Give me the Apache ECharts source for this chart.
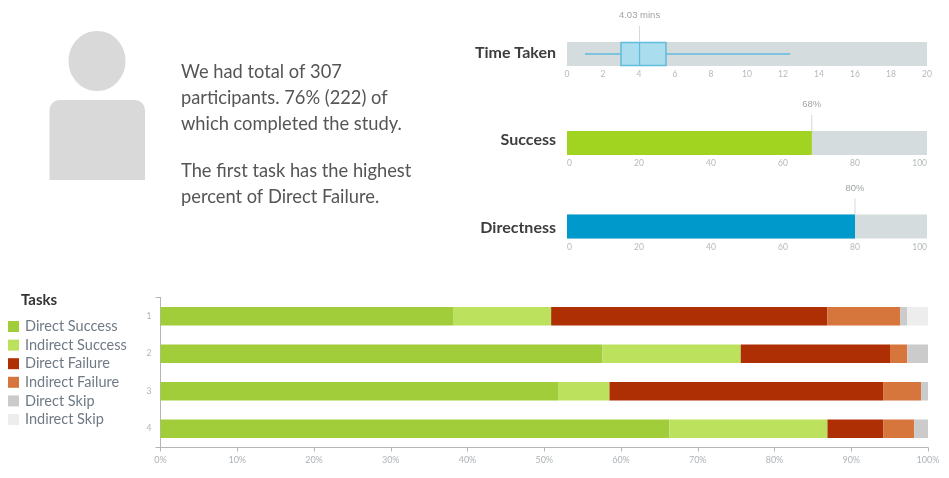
<!DOCTYPE html>
<html><head><meta charset="utf-8">
<style>html,body{margin:0;padding:0;background:#fff}#c{width:949px;height:478px}</style>
<script src="https://cdn.jsdelivr.net/npm/echarts@6/dist/echarts.min.js"></script>
</head><body><div id="c"></div>
<script>
const tasks = ['1','2','3','4'];
const directSuccess = [38.2, 57.6, 51.8, 66.3];
const indirectSuccess = [12.7, 18.0, 6.7, 20.6];
const directFailure = [36.0, 19.45, 35.65, 7.3];
const indirectFailure = [9.5, 2.25, 4.95, 4.0];
const directSkip = [0.9, 2.7, 0.9, 1.8];
const indirectSkip = [2.7, 0, 0, 0];
const stackNames = ['Direct Success','Indirect Success','Direct Failure','Indirect Failure','Direct Skip','Indirect Skip'];
const stackValues = [directSuccess, indirectSuccess, directFailure, indirectFailure, directSkip, indirectSkip];
const stackColors = ['#a2cd3a','#bce15d','#ae2f04','#d6753c','#cbcbcb','#ededed'];
const timeBox = [1, 3, 4.03, 5.5, 12.4];
const timeLabel = '4.03 mins';
const successValue = 68;
const directnessValue = 80;

const font = 'Lato';
const chart = echarts.init(document.getElementById('c'), null, {renderer:'canvas'});

const topGrid = (top) => ({left:567, top, width:360, height:24, show:true, backgroundColor:'#d4dcdd', borderWidth:0});
const topX = (gridIndex, max, interval, edge) => ({
  type:'value', gridIndex, min:0, max, interval,
  axisLine:{show:false}, axisTick:{show:false}, splitLine:{show:false},
  axisLabel:{fontFamily:font, fontSize:8.5, color:'#b4b9bb', margin:4,
    alignMinLabel:edge?'left':'center', alignMaxLabel:edge?'right':'center'}
});
const topY = (gridIndex) => ({type:'category', gridIndex, data:['x'], show:false});

const marker = (idx, value, text, fontFamily) => ({
  type:'custom', xAxisIndex:idx, yAxisIndex:idx, z:5, silent:true,
  data:[[value,0]], encode:{x:0,y:1},
  renderItem(params, api){
    const p = api.coord([api.value(0),0]);
    const h = api.size([0,1])[1];
    const top = p[1]-h/2;
    return {type:'group', children:[
      {type:'line', shape:{x1:p[0],y1:top-16,x2:p[0],y2:top}, style:{stroke:'#d3d8da',lineWidth:1}},
      {type:'text', style:{text, x:p[0], y:top-26.5, align:'center', verticalAlign:'middle',
        font:'9.5px '+fontFamily, fill:'#a0a4a6'}}
    ]};
  }
});

const option = {
  animation:false,
  textStyle:{fontFamily:font},
  grid:[
    topGrid(42), topGrid(131), topGrid(214.5),
    {left:160.5, top:297.5, width:767.5, height:150, show:false}
  ],
  xAxis:[
    topX(0,20,2,false), topX(1,100,20,true), topX(2,100,20,true),
    {type:'value', gridIndex:3, min:0, max:100, interval:10,
     axisLine:{show:true,lineStyle:{color:'#b5b5b5',width:1}},
     axisTick:{show:true,length:4,lineStyle:{color:'#b5b5b5'}},
     splitLine:{show:false},
     axisLabel:{formatter:'{value}%',fontFamily:font,fontSize:9,color:'#adb3b6',margin:8}}
  ],
  yAxis:[
    topY(0), topY(1), topY(2),
    {type:'category', gridIndex:3, data:tasks, inverse:true,
     axisLine:{show:true,lineStyle:{color:'#b5b5b5',width:1}},
     axisTick:{show:true,length:5,interval:(i)=>i===0,lineStyle:{color:'#b5b5b5'}},
     axisLabel:{fontFamily:font,fontSize:8.5,color:'#adb3b6',margin:9}}
  ],
  legend:{
    orient:'vertical', left:3, top:314, itemWidth:11, itemHeight:11, itemGap:3.6,
    icon:'rect', selectedMode:false, data:stackNames,
    itemStyle:{borderWidth:0},
    textStyle:{fontFamily:font,fontSize:14.5,color:'#6f7a85',padding:[0,0,0,1],lineHeight:15}
  },
  graphic:[
    {type:'ellipse', shape:{cx:97,cy:61,rx:28.5,ry:30}, style:{fill:'#d9d9d9'}},
    {type:'rect', shape:{x:49.5,y:100,width:95.5,height:80,r:[10,10,0,0]}, style:{fill:'#d9d9d9'}},
    ...[['We had total of 307',72],['participants. 76% (222) of',98],['which completed the study.',124],
        ['The first task has the highest',171],['percent of Direct Failure.',197]].map(([text,y])=>(
      {type:'text', style:{text,x:181,y,verticalAlign:'middle',font:'18.3px Lato',fill:'#555555'}})),
    ...[['Time Taken',53],['Success',139.5],['Directness',227.5]].map(([text,y])=>(
      {type:'text', style:{text,x:556,y,align:'right',verticalAlign:'middle',font:'bold 16px Lato',fill:'#3d3d3d'}})),
    {type:'text', style:{text:'Tasks',x:21,y:300.5,verticalAlign:'middle',font:'bold 15px Lato',fill:'#333333'}}
  ],
  series:[
    {type:'custom', xAxisIndex:0, yAxisIndex:0, silent:true, z:3,
     data:[[...timeBox,0]], encode:{x:[0,1,2,3,4],y:5},
     renderItem(params, api){
       const pt = (i)=>api.coord([api.value(i),0]);
       const [mn,q1,md,q3,mx] = [0,1,2,3,4].map(pt);
       const h = api.size([0,1])[1];
       const y = mn[1], s='#62bbdc';
       return {type:'group',children:[
         {type:'line',shape:{x1:mn[0],y1:y,x2:q1[0],y2:y},style:{stroke:s,lineWidth:1.5}},
         {type:'line',shape:{x1:q3[0],y1:y,x2:mx[0],y2:y},style:{stroke:s,lineWidth:1.5}},
         {type:'rect',shape:{x:q1[0],y:y-h/2+0.5,width:q3[0]-q1[0],height:h-1},style:{fill:'#aadeee',stroke:s,lineWidth:1.5}},
         {type:'line',shape:{x1:md[0],y1:y-h/2,x2:md[0],y2:y+h/2},style:{stroke:s,lineWidth:1.2}}
       ]};
     }},
    marker(0,timeBox[2],timeLabel,'"Liberation Sans"'),
    {type:'bar', xAxisIndex:1, yAxisIndex:1, data:[successValue], barWidth:'100%', itemStyle:{color:'#a0d420'}, silent:true},
    marker(1,successValue,successValue+'%','"Liberation Sans"'),
    {type:'bar', xAxisIndex:2, yAxisIndex:2, data:[directnessValue], barWidth:'100%', itemStyle:{color:'#0099cc'}, silent:true},
    marker(2,directnessValue,directnessValue+'%','"Liberation Sans"'),
    ...stackNames.map((name,i)=>({
      type:'bar', name, stack:'tasks', xAxisIndex:3, yAxisIndex:3, barWidth:18.5, silent:true,
      data:stackValues[i], itemStyle:{color:stackColors[i]}
    }))
  ]
};
chart.setOption(option);
</script></body></html>
